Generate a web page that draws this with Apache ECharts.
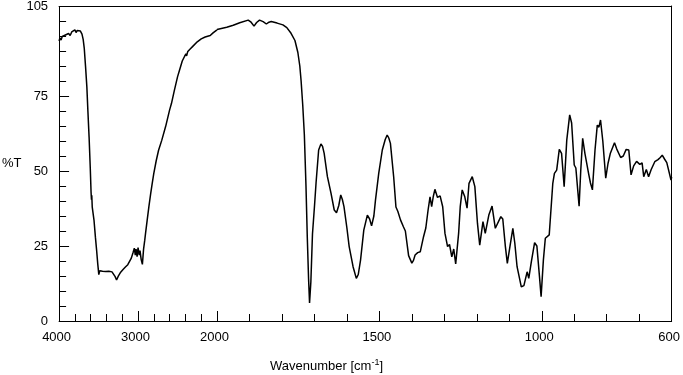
<!DOCTYPE html>
<html>
<head>
<meta charset="utf-8">
<script src="https://cdn.jsdelivr.net/npm/echarts@6/dist/echarts.min.js"></script>
<style>
  html, body { margin: 0; padding: 0; background: #fff; }
  #main { width: 683px; height: 375px; }
</style>
</head>
<body>
<div id="main"></div>
<script>
// 波数 (cm-1)，从 4000 到 600
var wavenumber = [
  4000, 3990, 3975, 3960, 3940, 3920, 3900, 3880, 3860, 3840, 3820, 3800, 3785, 3770, 3750, 3730,
  3710, 3695, 3681, 3665, 3648, 3635, 3620, 3605, 3595, 3590, 3586, 3580, 3558, 3540, 3525, 3510,
  3497, 3485, 3470, 3450, 3430, 3410, 3390, 3370, 3350, 3330, 3310, 3290, 3272, 3250, 3220, 3190,
  3160, 3130, 3108, 3085, 3065, 3047, 3035, 3025, 3012, 3000, 2985, 2975, 2960, 2945, 2930, 2915,
  2904, 2885, 2863, 2840, 2820, 2801, 2770, 2740, 2700, 2650, 2600, 2577, 2540, 2500, 2475, 2440,
  2410, 2400, 2393, 2385, 2370, 2340, 2310, 2291, 2250, 2200, 2150, 2086, 2050, 2000,
  1970, 1950, 1930, 1904, 1895, 1886, 1878, 1869, 1858, 1848, 1840, 1833, 1815, 1797, 1785, 1772,
  1760, 1751, 1745, 1741, 1736, 1731, 1726, 1722, 1718, 1715, 1711, 1706, 1700, 1695, 1687, 1680,
  1675, 1670, 1660, 1649, 1639, 1632, 1625, 1619, 1614, 1609, 1600, 1593, 1581, 1571, 1565, 1558,
  1548, 1537, 1530, 1524, 1517, 1512, 1502, 1491, 1482, 1476, 1471, 1466, 1456, 1449, 1443, 1435,
  1426, 1420, 1410, 1400, 1395, 1390, 1382, 1374, 1364, 1357, 1350, 1344, 1339, 1334, 1329, 1321,
  1313, 1305, 1298, 1290, 1284, 1277, 1271, 1265, 1256, 1251, 1245, 1237, 1230, 1224, 1214, 1206,
  1198, 1191, 1181, 1174, 1163, 1153, 1143, 1137, 1126, 1120, 1112, 1106, 1098, 1089, 1083, 1076,
  1063, 1055, 1045, 1040, 1032, 1022, 1015, 1007, 1002, 995, 989, 983, 977, 971, 966, 961,
  954, 946, 939, 931, 923, 914, 908, 900, 895, 885, 880, 874, 867, 861, 855, 850,
  844, 836, 829, 824, 819, 812, 803, 796, 789, 776, 769, 764, 757, 749, 740, 732,
  725, 717, 708, 698, 691, 686, 678, 671, 663, 652, 642, 635, 629, 622, 615, 609,
  602, 600
];

// 透过率 (%T)
var transmittance = [
  93.5, 94.5, 93.8, 95, 94.5, 95.5, 95, 96, 95.3, 96.5, 96, 97.2, 96.3, 97, 96.5, 96.8,
  95.8, 94, 91, 85, 78, 70, 61.4, 51, 43, 40.5, 42, 38, 33.7, 28, 23.7, 19,
  15.5, 16.8, 16.2, 16.6, 16, 16.5, 16.1, 16.6, 16, 16.4, 16, 14.8, 13.7, 15, 16.3, 17.2,
  18, 18.8, 19.3, 21, 22.7, 24.3, 22, 24, 21.5, 24.5, 22, 23.5, 20.5, 18.9, 24, 27,
  29.5, 33.5, 38.1, 42.5, 46, 49.2, 53.5, 57, 60.3, 65, 70.5, 72.6, 77, 81.5, 83.7, 86.8,
  88.4, 88, 89.2, 88.5, 90, 90.8, 91.6, 92, 93.2, 94.2, 94.8, 95.3, 96.2, 97.2,
  97.9, 98.6, 99.4, 100.3, 99.6, 98.3, 99.5, 100.3, 99.8, 99, 99.6, 99.8, 99.3, 98.7, 97.8, 95.9,
  93.5, 89.5, 85, 80, 72, 62, 45, 28, 14, 6, 13, 29, 38, 46, 57, 59,
  58.2, 55.9, 48.1, 42.6, 37, 36.1, 38.5, 42, 40.5, 38.1, 31, 24.8, 18.1, 14.2, 15.5, 20.3,
  30.3, 35.3, 34, 31.7, 35, 40.3, 49.2, 57, 60.5, 62, 61, 59.2, 48.1, 38, 36.5, 33.7,
  31.4, 30, 21.8, 19.3, 20.2, 22, 22.8, 23.1, 28.1, 31, 37, 41.4, 38.1, 41.5, 43.9, 41.2,
  41.7, 38.1, 29.2, 24.8, 25.5, 21.4, 24, 19, 29.2, 38.1, 43.7, 41.4, 37.6, 45.9, 48.1, 44.8,
  32.6, 25.3, 33.1, 29.2, 35.3, 38.3, 30.9, 31, 34.8, 34, 24.8, 19.2, 24.8, 30.9, 26, 18.1,
  11.4, 11.8, 16.4, 14.2, 19.8, 26.1, 25, 14.8, 8.1, 20.3, 27.6, 28, 28.7, 38.1, 45.9, 49.2,
  50.3, 57.2, 55.9, 44.8, 60.3, 68.7, 66, 52, 51, 38.3, 50, 60.9, 55.8, 56.2, 48.7, 46,
  43.7, 57, 65.3, 64.6, 67, 60, 47.6, 52.5, 55.8, 59.4, 57.3, 56.7, 54.5, 55, 57.2, 57,
  48.7, 51.7, 53.2, 52.2, 52.7, 48.1, 50.5, 48.1, 50.5, 53.1, 53.8, 54.5, 55.3, 54, 52.8, 52.5,
  47, 48
];

// 刻度
var highMinorTicks = [3800, 3600, 3400, 3200, 2800, 2600, 2400, 2200];
var highMajorTicks = [3000, 2000];
var highLabels = [4000, 3000, 2000];
var lowMinorTicks = [1900, 1800, 1700, 1600, 1400, 1300, 1200, 1100, 900, 800, 700];
var lowMajorTicks = [1500, 1000];
var lowLabels = [1500, 1000, 600];
var yLabels = [0, 25, 50, 75, 105];
var yMajorTicks = [25, 50, 75];

function chart() {
  var myChart = echarts.init(document.getElementById('main'));
  window.addEventListener('resize', () => myChart.resize(), false);

  // 4000-2000 与 2000-600 两段刻度不同，分成两个坐标系
  var highPart = [], lowPart = [];
  wavenumber.forEach(function (w, i) {
    if (w >= 2000) highPart.push([w, transmittance[i]]);
    if (w <= 2000) lowPart.push([w, transmittance[i]]);
  });

  var font = { color: '#000', fontFamily: 'Liberation Sans', fontSize: 13, fontWeight: 'normal' };
  var line = { show: true, lineStyle: { color: '#000', width: 1 } };
  var plain = function (v) { return String(v); };

  var option = {
    animation: false,
    backgroundColor: '#fff',
    title: {
      text: '{a|Wavenumber [cm}{s|-1}{a|]}',
      left: 270,
      top: 358,
      padding: 0,
      textStyle: {
        fontWeight: 'normal',
        rich: {
          a: { color: '#000', fontFamily: 'Liberation Sans', fontSize: 13, fontWeight: 'normal', lineHeight: 16 },
          s: { color: '#000', fontFamily: 'Liberation Sans', fontSize: 9, fontWeight: 'normal', lineHeight: 16, padding: [0, 0, 7, 0] }
        }
      }
    },
    grid: [
      { left: 54, top: 6, width: 163, height: 315 },
      { left: 217, top: 6, width: 458, height: 315 }
    ],
    xAxis: [
      {
        gridIndex: 0, type: 'value', min: 2000, max: 4000, inverse: true,
        axisLine: line,
        axisTick: { inside: true, length: 7, customValues: highMinorTicks, lineStyle: { color: '#000' } },
        axisLabel: Object.assign({ customValues: highLabels, margin: 10, padding: [0, 5, 0, 0], formatter: plain }, font),
        splitLine: { show: false }
      },
      {
        gridIndex: 0, type: 'value', min: 2000, max: 4000, inverse: true, position: 'bottom',
        axisLine: { show: false },
        axisTick: { inside: true, length: 10, customValues: highMajorTicks, lineStyle: { color: '#000' } },
        axisLabel: { show: false },
        splitLine: { show: false }
      },
      {
        gridIndex: 0, type: 'value', min: 2000, max: 4000, inverse: true, position: 'top',
        axisLine: line, axisTick: { show: false }, axisLabel: { show: false }, splitLine: { show: false }
      },
      {
        gridIndex: 1, type: 'value', min: 600, max: 2000, inverse: true,
        axisLine: line,
        axisTick: { inside: true, length: 7, customValues: lowMinorTicks, lineStyle: { color: '#000' } },
        axisLabel: Object.assign({ customValues: lowLabels, margin: 10, padding: [0, 5, 0, 0], formatter: plain }, font),
        splitLine: { show: false }
      },
      {
        gridIndex: 1, type: 'value', min: 600, max: 2000, inverse: true, position: 'bottom',
        axisLine: { show: false },
        axisTick: { inside: true, length: 10, customValues: lowMajorTicks, lineStyle: { color: '#000' } },
        axisLabel: { show: false },
        splitLine: { show: false }
      },
      {
        gridIndex: 1, type: 'value', min: 600, max: 2000, inverse: true, position: 'top',
        axisLine: line, axisTick: { show: false }, axisLabel: { show: false }, splitLine: { show: false }
      }
    ],
    yAxis: [
      {
        gridIndex: 0, type: 'value', min: 0, max: 105, interval: 5,
        name: '%T', nameLocation: 'middle', nameRotate: 0, nameGap: 34,
        nameTextStyle: font,
        axisLine: line,
        axisTick: { inside: true, length: 7, lineStyle: { color: '#000' } },
        axisLabel: Object.assign({ customValues: yLabels, margin: 11, formatter: plain }, font),
        splitLine: { show: false }
      },
      {
        gridIndex: 0, type: 'value', min: 0, max: 105, position: 'left',
        axisLine: { show: false },
        axisTick: { inside: true, length: 10, customValues: yMajorTicks, lineStyle: { color: '#000' } },
        axisLabel: { show: false },
        splitLine: { show: false }
      },
      {
        gridIndex: 1, type: 'value', min: 0, max: 105, position: 'right',
        axisLine: line, axisTick: { show: false }, axisLabel: { show: false }, splitLine: { show: false }
      }
    ],
    series: [
      {
        type: 'line', xAxisIndex: 0, yAxisIndex: 0, data: highPart,
        showSymbol: false, lineStyle: { color: '#000', width: 1.5 }
      },
      {
        type: 'line', xAxisIndex: 3, yAxisIndex: 2, data: lowPart,
        showSymbol: false, lineStyle: { color: '#000', width: 1.5 }
      }
    ]
  };
  myChart.setOption(option);
}

window.onload = function () {
  chart();
};
</script>
</body>
</html>
